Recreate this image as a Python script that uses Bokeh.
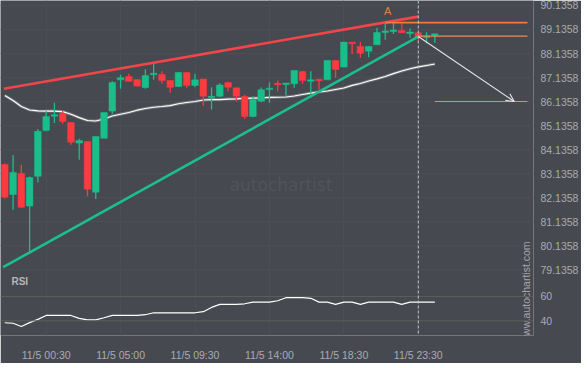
import math
from bokeh.plotting import figure
from bokeh.models import (Range1d, FixedTicker, Span, Arrow, OpenHead, ColumnDataSource)
from bokeh.core.properties import value
from bokeh.embed import file_html
from bokeh.resources import INLINE

# ---------------- data (30-minute candles, index 0..52) ----------------
opens = [83.52, 82.27, 83.15, 81.79, 83.03, 84.93, 85.54, 85.64, 85.27, 84.41,
         84.48, 82.37, 84.61, 85.74, 87.04, 87.18, 87.05, 86.72, 87.27, 87.26,
         87.01, 86.76, 87.35, 86.81, 87.08, 86.31, 86.36, 86.93, 86.71, 86.35,
         85.52, 86.15, 86.65, 86.88, 86.86, 86.88, 87.39, 87.00, 87.05, 87.04,
         87.85, 87.57, 88.59, 88.43, 88.23, 88.50, 89.01, 89.07, 89.09, 88.98,
         89.00, 88.81, 88.91]
highs = [83.56, 83.92, 83.51, 83.02, 85.00, 85.74, 86.09, 85.77, 85.27, 84.59,
         84.48, 84.69, 85.68, 86.98, 87.25, 87.29, 87.05, 87.48, 87.71, 87.40,
         87.01, 87.37, 87.37, 87.29, 87.08, 86.73, 86.90, 86.93, 86.71, 86.42,
         86.36, 86.72, 86.94, 87.01, 86.91, 87.43, 87.41, 87.40, 87.05, 87.85,
         87.85, 88.61, 88.59, 88.61, 88.43, 89.20, 89.40, 89.44, 89.40, 89.18,
         89.01, 89.02, 88.95]
lows = [82.11, 81.64, 81.73, 79.81, 82.78, 84.90, 85.25, 85.21, 84.34, 83.72,
        82.20, 82.09, 84.61, 85.63, 86.67, 86.98, 86.76, 86.67, 87.04, 86.88,
        86.50, 86.74, 86.71, 86.73, 85.96, 85.81, 86.32, 86.57, 86.14, 85.42,
        85.49, 86.11, 86.09, 86.56, 86.39, 86.71, 86.88, 86.46, 86.63, 87.04,
        87.13, 87.57, 88.12, 87.96, 87.98, 88.50, 88.71, 88.95, 89.00, 88.79,
        88.68, 88.56, 88.58]
closes = [82.16, 83.19, 81.74, 82.98, 84.90, 85.52, 85.58, 85.31, 84.45, 84.52,
          82.49, 84.69, 85.68, 86.93, 87.13, 86.98, 86.78, 87.22, 87.30, 87.01,
          86.73, 87.35, 86.81, 87.04, 86.36, 86.34, 86.83, 86.73, 86.36, 85.52,
          86.21, 86.63, 86.68, 86.85, 86.89, 87.43, 87.01, 87.03, 87.02, 87.85,
          87.47, 88.61, 88.56, 88.15, 88.43, 89.01, 89.07, 89.10, 89.00, 89.01,
          88.83, 88.85, 88.94]
ma_values = [86.39, 86.18, 85.93, 85.79, 85.75, 85.74, 85.74, 85.72, 85.61, 85.47,
             85.35, 85.33, 85.41, 85.54, 85.61, 85.68, 85.78, 85.85, 85.90, 85.93,
             85.97, 86.05, 86.10, 86.14, 86.20, 86.22, 86.22, 86.24, 86.25, 86.27,
             86.28, 86.29, 86.31, 86.32, 86.33, 86.37, 86.43, 86.49, 86.54, 86.58,
             86.64, 86.70, 86.81, 86.89, 86.99, 87.08, 87.18, 87.30, 87.41, 87.50,
             87.58, 87.64, 87.70]
rsi_values = [38.4, 38.0, 35.3, 38.5, 41.2, 44.4, 44.4, 44.4, 44.4, 42.0,
              40.8, 40.8, 42.5, 44.4, 44.4, 44.4, 44.4, 45.0, 46.6, 46.6,
              46.6, 46.6, 46.6, 46.6, 47.5, 51.0, 53.5, 53.5, 53.5, 54.0,
              55.4, 55.4, 55.4, 56.5, 59.0, 59.0, 59.0, 58.5, 55.4, 55.4,
              53.5, 55.4, 55.4, 53.5, 55.4, 55.4, 55.4, 55.4, 53.5, 55.4,
              55.4, 55.4, 55.4]

price_ticks = [90.1358, 89.1358, 88.1358, 87.1358, 86.1358, 85.1358,
               84.1358, 83.1358, 82.1358, 81.1358, 80.1358, 79.1358]
rsi_ticks = [60, 40]
time_tick_index = [5, 14, 23, 32, 41, 50]
time_tick_labels = ["11/5 00:30", "11/5 05:00", "11/5 09:30",
                    "11/5 14:00", "11/5 18:30", "11/5 23:30"]

# pattern (rising wedge)
resistance_x = [-0.1, 50]
resistance_y = [86.67, 89.67]
support_x = [-0.2, 50]
support_y = [79.25, 88.84]
pattern_end_index = 50
level_a_index = 46
level_a_price = 89.42
breakout_price = 88.86
target_start_index = 52
target_price = 86.14
target_index = 61.6
levels_end_index = 63.2
point_a_index = 46.3
point_a_price = 89.67

# ---------------- styles ----------------
BG = "#46494f"
UP = "#19bf8a"
DOWN = "#fb3b40"
TXT = "#a9acb1"
FONT = "Liberation Sans"

idx = list(range(len(opens)))
colors = [UP if c >= o else DOWN for o, c in zip(opens, closes)]
min_body = 0.06
tops, bottoms = [], []
for o, c in zip(opens, closes):
    t, b = max(o, c), min(o, c)
    if t - b < min_body:
        m = (t + b) / 2
        t, b = m + min_body / 2, m - min_body / 2
    tops.append(t)
    bottoms.append(b)
src = ColumnDataSource(dict(x=idx, top=tops, bottom=bottoms, high=highs, low=lows, color=colors))

y0, y1 = 76.41, 90.34
r0, r1 = 27.9, 303.6

p = figure(frame_width=533, frame_height=335,
           x_range=Range1d(-0.52, 63.93), y_range=Range1d(y0, y1),
           output_backend="svg", toolbar_location=None,
           background_fill_color=BG, border_fill_color=BG,
           outline_line_color=None, min_border=0,
           y_axis_location="right")
p.extra_y_ranges = {"rsi": Range1d(r0, r1)}

# axes
rsi_equiv = [round(y0 + (r - r0) / (r1 - r0) * (y1 - y0), 6) for r in rsi_ticks]
yax = p.yaxis[0]
yax.ticker = FixedTicker(ticks=price_ticks + rsi_equiv)
ov = {t: f"{t:.4f}" for t in price_ticks}
for t, r in zip(rsi_equiv, rsi_ticks):
    ov[t] = str(r)
yax.major_label_overrides = ov
xax = p.xaxis[0]
xax.ticker = FixedTicker(ticks=time_tick_index)
xax.major_label_overrides = {i: l for i, l in zip(time_tick_index, time_tick_labels)}
for ax in (xax, yax):
    ax.axis_line_color = None
    ax.major_tick_line_color = None
    ax.minor_tick_line_color = None
    ax.major_label_text_font = FONT
    ax.major_label_text_font_size = "10.5px"
    ax.major_label_text_color = TXT
yax.major_label_standoff = 1
xax.major_label_standoff = 7

p.xgrid.ticker = FixedTicker(ticks=time_tick_index)
p.ygrid.ticker = FixedTicker(ticks=price_ticks)
p.grid.grid_line_color = "#4b4e54"
p.grid.grid_line_width = 1

# RSI grid lines
for r in rsi_ticks:
    p.add_layout(Span(location=r, dimension="width", y_range_name="rsi",
                      line_color="#5b5f5c", line_width=1))

# watermark
p.text(x=[33.4], y=[82.65], text=["autochartist"], text_align="center",
       text_baseline="middle", text_font=value("DejaVu Sans"),
       text_font_size=value("17px"), text_color="#515459")
p.text(x=[63.08], y=[78.2], text=["www.autochartist.com"], angle=math.pi / 2,
       text_align="center", text_baseline="middle", text_font=value(FONT),
       text_font_size=value("10.5px"), text_color="#a3a6ab")

# moving average
p.line(idx, ma_values, line_color="#9a9ca0", line_width=3, line_alpha=0.5)
p.line(idx, ma_values, line_color="#ffffff", line_width=1.1)

# candles
p.segment(x0="x", x1="x", y0="low", y1="high", color="color", line_width=1.3, source=src)
p.vbar(x="x", width=0.8, top="top", bottom="bottom", fill_color="color",
       line_color="color", line_width=0.5, source=src)

# wedge lines
p.line(resistance_x, resistance_y, line_color="#f2454a", line_width=2.6)
p.line(support_x, support_y, line_color="#1bbf8c", line_width=2.6)

# levels
p.line([level_a_index, levels_end_index], [level_a_price, level_a_price],
       line_color="#f47a36", line_width=1.6)
p.line([pattern_end_index, levels_end_index], [breakout_price, breakout_price],
       line_color="#ee8a4f", line_width=1.1)
p.line([target_start_index, levels_end_index], [target_price, target_price],
       line_color="#ee8a4f", line_width=1.1)
p.text(x=[point_a_index], y=[point_a_price], text=["A"], text_align="center",
       text_baseline="bottom", text_font=value(FONT), text_font_size=value("11px"),
       text_color="#dc8350")

# projection arrow
p.add_layout(Arrow(end=OpenHead(size=8, line_color="#e6e6e6", line_width=1.1),
                   x_start=pattern_end_index, y_start=support_y[-1],
                   x_end=target_index, y_end=target_price,
                   line_color="#e6e6e6", line_width=1.1))

# current time marker
p.add_layout(Span(location=pattern_end_index, dimension="height",
                  line_color="#c3c5c8", line_width=1, line_dash="3 2"))

# RSI
p.line(idx, rsi_values, y_range_name="rsi", line_color="#ffffff", line_width=1.2)
p.text(x=[0.8], y=[72.3], y_range_name="rsi", text=["RSI"], text_align="left",
       text_baseline="middle", text_font=value(FONT), text_font_style="bold",
       text_font_size=value("10px"), text_color="#b4b7bb")

open("out.html", "w").write(file_html(p, INLINE))
